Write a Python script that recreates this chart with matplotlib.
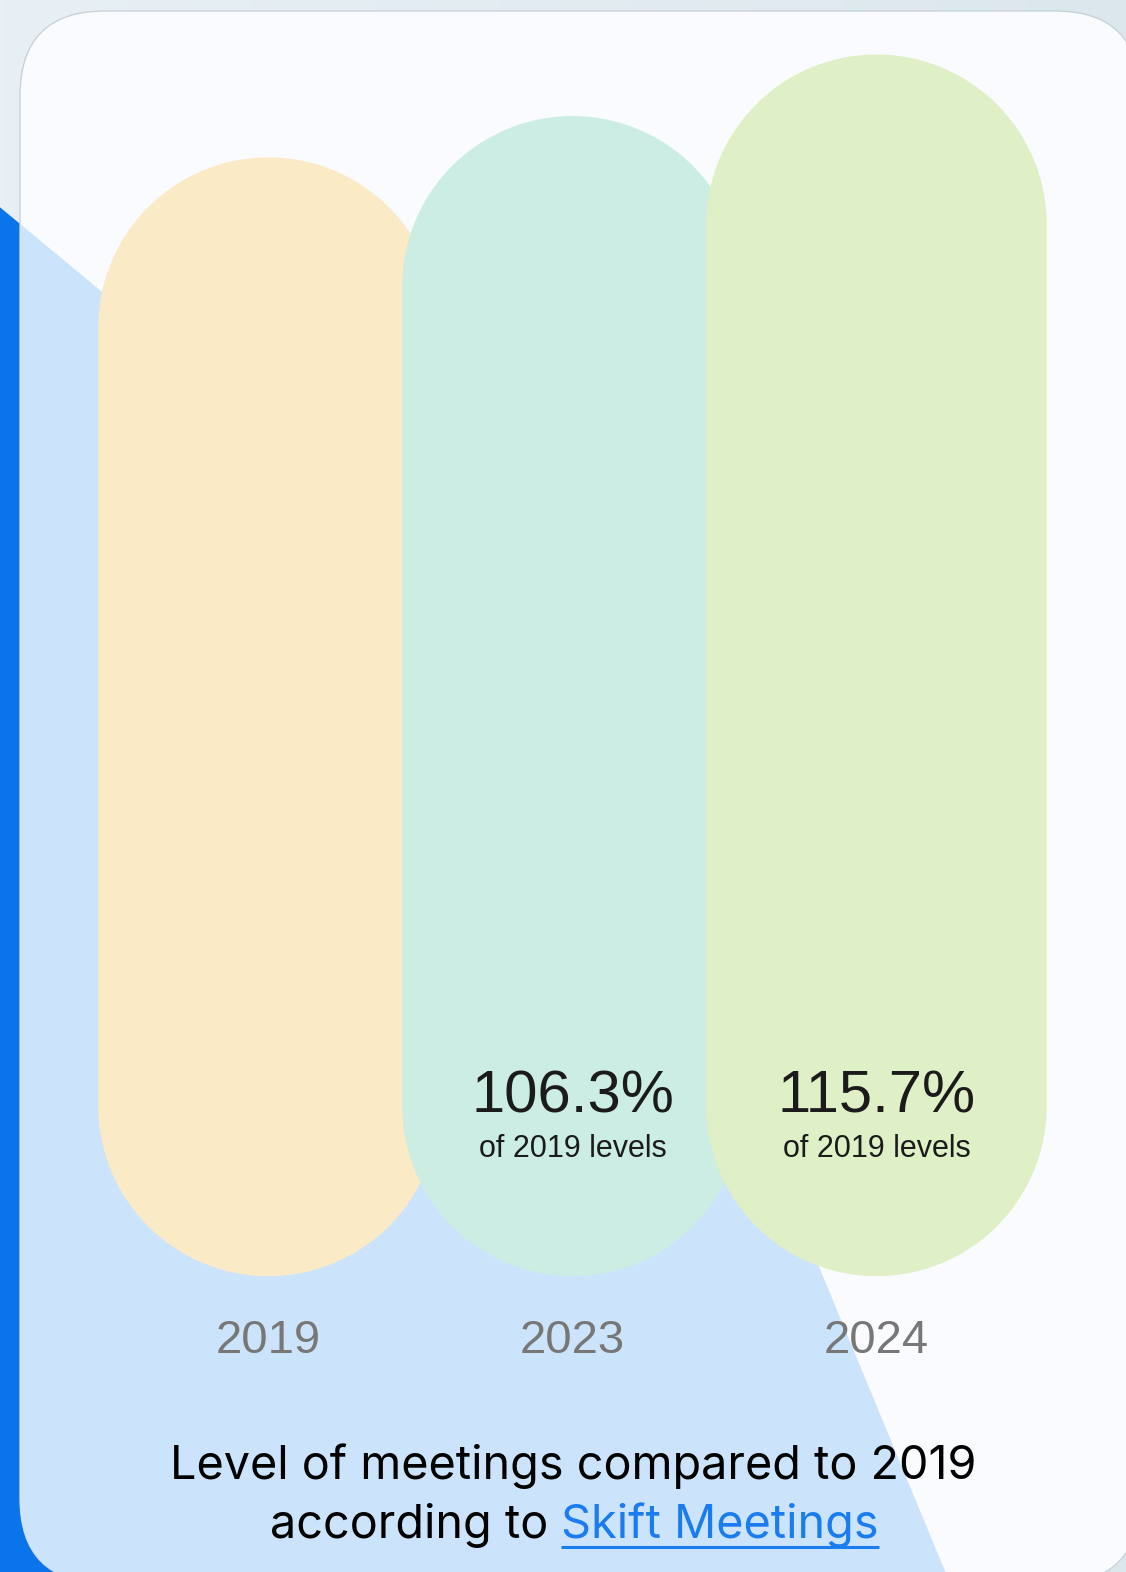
import numpy as np
import matplotlib
matplotlib.use("Agg")
import matplotlib.pyplot as plt
from matplotlib.patches import FancyBboxPatch, Polygon

# meetings volume, indexed to 2019 = 100
years = ["2019", "2023", "2024"]
levels = [100.0, 106.3, 115.7]
bar_colors = ["#fbeac6", "#cbede3", "#dfefc6"]

W, H = 1126, 1572
fig = plt.figure(figsize=(W / 100, H / 100), dpi=100)

# ---- backdrop: page, blue wedge, rounded card ----
bg = fig.add_axes([0, 0, 1, 1])
bg.set_xlim(0, W)
bg.set_ylim(H, 0)
bg.axis("off")

grad = np.linspace(0, 1, 256).reshape(1, -1)
bg.imshow(grad, extent=(0, W, H, 0), aspect="auto", zorder=0,
          cmap=matplotlib.colors.LinearSegmentedColormap.from_list("pg", ["#e8f0f5", "#dce7ed"]))

wedge = [(-10, 199), (579, 687), (957, 1600), (-10, 1600)]
bg.add_patch(Polygon(wedge, closed=True, fc="#0a74ea", ec="none", zorder=1))

card = FancyBboxPatch((20, 11), 1120, 1572, boxstyle="round,pad=0,rounding_size=85",
                      fc="#f9fbfe", ec="#c9d2da", lw=1, zorder=2)
bg.add_patch(card)
inner = Polygon(wedge, closed=True, fc="#cbe4fb", ec="none", zorder=3)
bg.add_patch(inner)
inner.set_clip_path(card)

# ---- pill bars ----
ax = fig.add_axes([0, 0, 1, 1])
ax.patch.set_alpha(0)
ax.axis("off")
ax.set_xlim(-0.8832, 2.8207)
ax.set_ylim(-115.97, 124.02)

floor = -70.8        # value where every pill starts
width = 1.12
x = np.arange(len(years))

fig.canvas.draw()
p0 = ax.transData.transform((0, 0))
p1 = ax.transData.transform((1, 1))
rx = width / 2
ry = rx * (p1[0] - p0[0]) / (p1[1] - p0[1])


def pill(xc, lo, hi):
    t_top = np.linspace(0, np.pi, 90)
    t_bot = np.linspace(np.pi, 2 * np.pi, 90)
    top = np.column_stack([xc + rx * np.cos(t_top), hi - ry + ry * np.sin(t_top)])
    bot = np.column_stack([xc + rx * np.cos(t_bot), lo + ry + ry * np.sin(t_bot)])
    return np.vstack([top, bot])


for xi, v, c in zip(x, levels, bar_colors):
    ax.add_patch(Polygon(pill(xi, floor, v), closed=True, fc=c, ec="none", zorder=4))

for xi, v, yr in zip(x, levels, years):
    ax.annotate(yr, (xi, floor), xytext=(0, -55), textcoords="offset points",
                ha="center", va="baseline", fontsize=34, color="#777777",
                family="Liberation Sans", zorder=6)
    if v != levels[0]:
        ax.annotate(f"{v:.1f}%", (xi, floor), xytext=(0, 118), textcoords="offset points",
                    ha="center", va="baseline", fontsize=43, color="#1b1b1b",
                    family="Liberation Sans", zorder=6)
        ax.annotate(f"of {years[0]} levels", (xi, floor), xytext=(0, 86),
                    textcoords="offset points", ha="center", va="baseline",
                    fontsize=22, color="#1b1b1b", family="Liberation Sans", zorder=6)

# ---- caption with link ----
cap_font = dict(family="Inter", fontsize=33.7)
bg.text(573, 1479, "Level of meetings compared to 2019", ha="center", va="baseline",
        color="black", zorder=7, **cap_font)

r = fig.canvas.get_renderer()
t1 = bg.text(0, 1538, "according to ", ha="left", va="baseline", color="black", zorder=7, **cap_font)
t2 = bg.text(0, 1538, "Skift Meetings", ha="left", va="baseline", color="#1a7cf0", zorder=7, **cap_font)
w1 = t1.get_window_extent(r).width
w2 = t2.get_window_extent(r).width
sx = W / fig.bbox.width
left = 574 - (w1 + w2) * sx / 2
t1.set_x(left)
t2.set_x(left + w1 * sx)
bg.plot([left + w1 * sx, left + (w1 + w2) * sx], [1547, 1547], color="#1a7cf0", lw=2.2, zorder=7,
        solid_capstyle="butt")

fig.savefig("out.png", dpi=100)
